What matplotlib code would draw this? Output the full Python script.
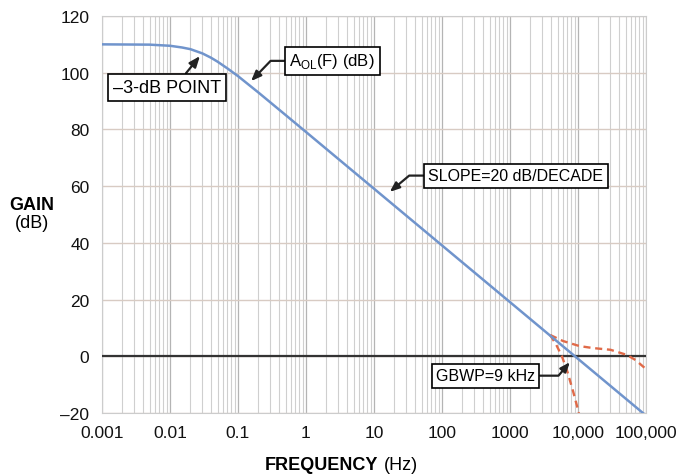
import numpy as np
import matplotlib.pyplot as plt
from matplotlib.ticker import FixedLocator, NullFormatter

plt.rcParams['font.family'] = ['Liberation Sans', 'DejaVu Sans']

# open-loop gain curve, read at a set of frequencies (Hz, dB)
aol_freq = [0.001, 0.005, 0.01, 0.015, 0.02, 0.03, 0.04, 0.05, 0.07, 0.1,
            0.2, 0.5, 1, 10, 100, 1000, 10000, 100000]
aol_db = [110.0, 109.9, 109.5, 108.9, 108.3, 106.8, 105.3, 103.9, 101.5, 98.8,
          93.0, 85.1, 79.1, 59.1, 39.1, 19.1, -0.9, -20.9]

# closed-loop variants near the crossover (dashed)
steep_freq = [3900, 4800, 5800, 7000, 8500, 10300]
steep_db = [7.5, 4.0, 0.0, -5.5, -12.5, -20.0]
flat_freq = [3900, 6000, 10500, 16600, 30000, 52000, 70000, 100000]
flat_db = [7.5, 5.4, 3.6, 2.9, 2.3, 0.5, -1.3, -4.5]

xticks = [0.001, 0.01, 0.1, 1, 10, 100, 1000, 10000, 100000]
xlabels = ['0.001', '0.01', '0.1', '1', '10', '100', '1000', '10,000', '100,000']
yticks = [-20, 0, 20, 40, 60, 80, 100, 120]
ylabels = ['\u201320', '0', '20', '40', '60', '80', '100', '120']

fig = plt.figure(figsize=(6.92, 4.77), dpi=100)
ax = fig.add_axes([102 / 692, 1 - 414 / 477, 544 / 692, 397 / 477])

ax.set_xscale('log')
ax.set_xlim(0.001, 100000)
ax.set_ylim(-20, 120)

# grid: decades a bit darker than the 2..9 lines
minor = [m * d for d in xticks[:-1] for m in range(2, 10)]
ax.xaxis.set_minor_locator(FixedLocator(minor))
ax.xaxis.set_minor_formatter(NullFormatter())
ax.set_xticks(xticks)
ax.set_xticklabels(xlabels)
ax.set_yticks(yticks)
ax.set_yticklabels(ylabels)
ax.grid(True, which='major', axis='x', color='#b4b4b4', lw=0.9)
ax.grid(True, which='minor', axis='x', color='#cfcfcf', lw=0.8)
ax.grid(True, which='major', axis='y', color='#d8cbc3', lw=1.0)
ax.tick_params(which='both', length=0, labelsize=12.5, colors='#111111')
ax.tick_params(axis='x', pad=9)
ax.tick_params(axis='y', pad=9)
for s in ax.spines.values():
    s.set_color('#cccccc')
    s.set_linewidth(0.8)
ax.set_axisbelow(True)

ax.axhline(0, color='#333333', lw=1.6, zorder=3)
ax.plot(steep_freq, steep_db, color='#e06a48', lw=1.7, ls=(0, (3, 2)), zorder=4)
ax.plot(flat_freq, flat_db, color='#e06a48', lw=1.7, ls=(0, (3, 2)), zorder=4)
ax.plot(aol_freq, aol_db, color='#7094cc', lw=1.8, zorder=5)

box = dict(boxstyle='square,pad=0.28', fc='white', ec='black', lw=1.2)
arrow = dict(arrowstyle='-|>,head_length=0.5,head_width=0.2', color='#222222',
             lw=1.6, shrinkA=0, shrinkB=0)

def callout(text, tip, pos, size, conn='arc3', relpos=(0.5, 0.5)):
    ax.annotate(text, xy=tip, xycoords='axes fraction', xytext=pos,
                textcoords='axes fraction', ha='center', va='center',
                fontsize=size, bbox=box, zorder=6,
                arrowprops=dict(arrow, connectionstyle=conn, relpos=relpos))

callout('\u20133-dB POINT', (0.180, 0.899), (0.120, 0.820), 13,
        relpos=(0.63, 1.0))
callout(r'A$_{\mathregular{OL}}$(F) (dB)', (0.274, 0.836), (0.423, 0.887), 12,
        conn='angle,angleA=0,angleB=46,rad=0')
callout('SLOPE=20 dB/DECADE', (0.529, 0.557), (0.761, 0.598), 11.5,
        conn='angle,angleA=0,angleB=40,rad=0')
callout('GBWP=9 kHz', (0.860, 0.128), (0.705, 0.094), 11.5,
        conn='angle,angleA=0,angleB=50,rad=0')

fig.text(32 / 692, 1 - 205 / 477, 'GAIN', ha='center', va='center',
         fontsize=13, fontweight='bold')
fig.text(32 / 692, 1 - 224 / 477, '(dB)', ha='center', va='center', fontsize=13)
fig.text(265 / 692, 1 - 466 / 477, 'FREQUENCY', ha='left', va='center',
         fontsize=13, fontweight='bold')
fig.text(384 / 692, 1 - 466 / 477, '(Hz)', ha='left', va='center', fontsize=13)

fig.savefig('out.png', dpi=100)
